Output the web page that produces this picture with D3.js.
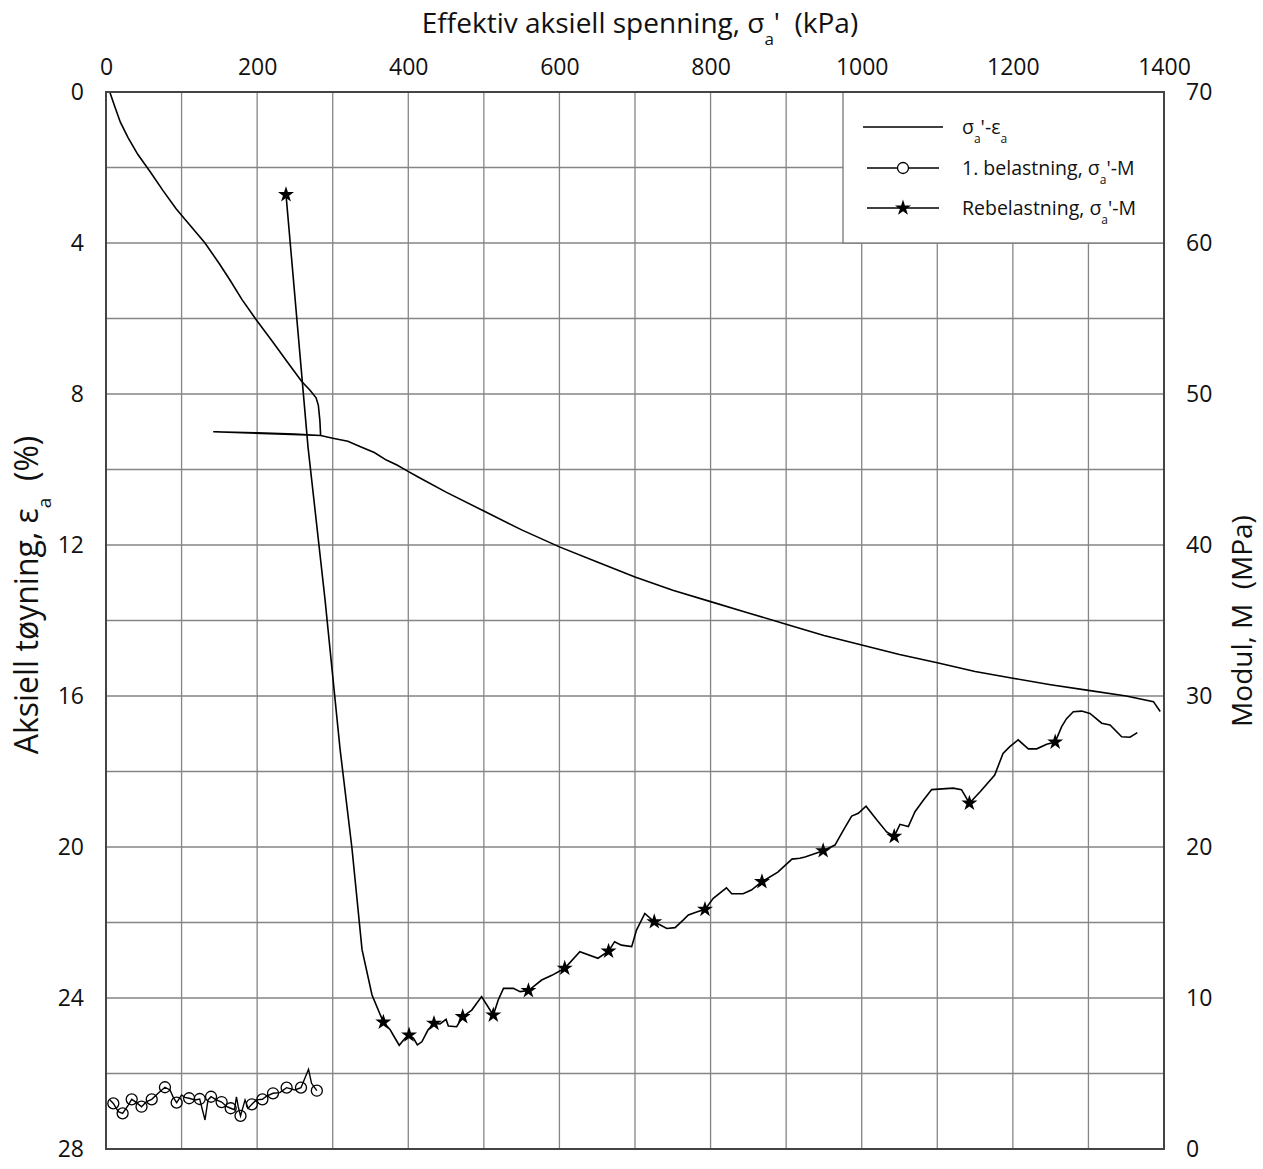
<!DOCTYPE html>
<html>
<head>
<meta charset="utf-8">
<script src="https://cdn.jsdelivr.net/npm/d3@7"></script>
<style>
  body { margin: 0; background: #fff; }
  svg { font-family: "Open Sans", sans-serif; }
  svg text { white-space: pre; }
  .grid line { stroke: #858585; stroke-width: 1.3; }
  .tick-lbl text { font-size: 23px; fill: #111; }
</style>
</head>
<body>
<svg id="chart" width="1263" height="1169"></svg>
<script>
// sigma_a' - eps_a (loading, creep, unload/reload, further loading)
const strainCurve = [
  [5,0],[11,0.35],[19,0.8],[29,1.2],[42,1.65],[58,2.1],[75,2.6],[93,3.1],[112,3.55],[131,4.0],
  [150,4.55],[164,4.98],[180,5.5],[199,6.04],[220,6.6],[240,7.15],[259,7.67],[270,7.9],
  [278,8.1],[281,8.3],[283,8.7],[284,9.1],
  [142,9.0],[200,9.03],[250,9.06],[284,9.1],
  [300,9.17],[320,9.25],[336,9.39],[355,9.55],[371,9.75],[385,9.88],[398,10.03],[413,10.2],
  [450,10.6],[500,11.1],[550,11.6],[600,12.05],[650,12.45],[700,12.85],[750,13.2],[800,13.5],
  [850,13.8],[900,14.1],[950,14.4],[1000,14.65],[1050,14.9],[1100,15.12],[1150,15.35],
  [1200,15.53],[1250,15.7],[1300,15.85],[1350,16.0],[1386,16.15],[1395,16.41]
];

// 1. belastning, sigma_a' - M
const firstLoadLine = [
  [5.3,3.25],[9.7,3.02],[16.3,2.47],[22,2.36],[29.5,2.91],[34,3.29],[40.5,3.07],[47,2.8],
  [53.7,3.14],[60.5,3.29],[69,3.69],[78,4.09],[84.7,3.91],[89,3.42],[93.5,3.07],[100,3.58],
  [104.5,3.42],[110,3.36],[117.6,3.25],[124,3.31],[131,1.92],[135,3.25],[139,3.46],[146,3.25],
  [153,3.11],[160,2.8],[165,2.7],[170,2.6],[172.6,3.46],[175,2.8],[178,2.19],[184,3.25],
  [188,2.7],[193,2.96],[199,3.25],[207,3.29],[212.6,3.51],[221,3.69],[230,3.73],[239,4.06],
  [250,3.91],[258,4.06],[268,5.28],[272,4.35],[279,3.86]
];
const firstLoadMarkers = [
  [9.7,3.02],[22,2.36],[34,3.29],[47,2.8],[60.5,3.29],[78,4.09],[93.5,3.07],[110,3.36],
  [124,3.31],[139,3.46],[153,3.11],[165,2.7],[178,2.19],[193,2.96],[207,3.29],[221,3.69],
  [239,4.06],[258,4.06],[279,3.86]
];

// Rebelastning, sigma_a' - M
const reloadLine = [
  [238.2,63.2],[267.3,46.5],[289.8,36.4],[309.7,26.5],[325.5,19.9],[338.8,13.2],[352,10.2],
  [367,8.4],[376,7.9],[380,7.55],[388,6.87],[396,7.35],[401,7.55],[407,7.33],[412,6.89],
  [418,7.1],[426,7.88],[434,8.32],[442,8.28],[450,8.59],[453,8.15],[464,8.1],[472,8.76],
  [484,9.2],[497,10.09],[504,9.54],[512.5,8.87],[519,9.87],[526,10.64],[539,10.64],[548,10.42],
  [559,10.49],[576.5,11.19],[590,11.5],[607,11.97],[627,13.07],[651,12.63],[665,13.1],
  [673,13.73],[682,13.5],[695.6,13.4],[702,14.5],[713,15.6],[725.5,15.05],[742,14.6],
  [753,14.66],[764,15.17],[770.6,15.5],[781.6,15.7],[792.6,15.87],[803.6,16.6],[821,17.3],
  [828,16.9],[843,16.9],[854,17.15],[868,17.7],[889,18.34],[907.7,19.2],[918,19.25],
  [925,19.34],[949,19.75],[964.6,20.13],[975.6,21.1],[986.7,22.05],[995.5,22.23],
  [1005.7,22.7],[1019.8,21.8],[1033,21.0],[1043,20.7],[1050.6,21.5],[1061.7,21.35],
  [1070.5,22.34],[1081.5,23.1],[1092.6,23.8],[1121,23.9],[1132,23.8],[1142.5,22.9],
  [1157,23.67],[1176,24.77],[1187,26.2],[1196,26.65],[1207,27.1],[1220.5,26.5],[1231.6,26.5],
  [1244.8,26.8],[1256,26.95],[1264.6,27.97],[1271,28.5],[1280,28.96],[1291,29.0],
  [1302,28.85],[1317.6,28.2],[1328.6,28.08],[1344,27.3],[1355,27.27],[1364.7,27.57]
];
const reloadMarkers = [
  [238.2,63.2],[367,8.4],[401,7.55],[434,8.32],[472,8.76],[512.5,8.87],[559,10.49],
  [607,11.97],[665,13.1],[725.5,15.05],[792.6,15.87],[868,17.7],[949,19.75],[1043,20.7],
  [1142.5,22.9],[1256,26.95]
];

const stressTicks = d3.range(0, 1401, 200);
const strainTicks = d3.range(0, 29, 4);
const modulusTicks = d3.range(0, 71, 10);
const legendLabels = ["σ|a|'-ε|a|", "1. belastning, σ|a|'-M", "Rebelastning, σ|a|'-M"];

const svg = d3.select("#chart");
const mLeft = 106, mRight = 1164, mTop = 92, mBottom = 1149;

const x = d3.scaleLinear().domain([0, 1400]).range([mLeft, mRight]);
const yL = d3.scaleLinear().domain([0, 28]).range([mTop, mBottom]);
const yR = d3.scaleLinear().domain([0, 70]).range([mBottom, mTop]);

// grid
const grid = svg.append("g").attr("class", "grid");
grid.selectAll(".gx").data(d3.range(100, 1400, 100)).enter().append("line")
  .attr("x1", d => x(d)).attr("x2", d => x(d)).attr("y1", mTop).attr("y2", mBottom);
grid.selectAll(".gy").data(d3.range(2, 28, 2)).enter().append("line")
  .attr("x1", mLeft).attr("x2", mRight).attr("y1", d => yL(d)).attr("y2", d => yL(d));

// helper: text with subscripts, segments split by '|', odd ones are subscript
function richText(sel, str, subSize) {
  str.split("|").forEach((s, i) => {
    const t = sel.append("tspan").text(s);
    if (i % 2 === 1) t.attr("baseline-shift", "sub").attr("font-size", subSize);
  });
}

// axes
const fmt = d3.format("d");
const axTop = svg.append("g").attr("class", "tick-lbl").attr("transform", `translate(0,${mTop})`)
  .call(d3.axisTop(x).tickValues(stressTicks).tickFormat(fmt).tickSize(0).tickPadding(17));
const axL = svg.append("g").attr("class", "tick-lbl").attr("transform", `translate(${mLeft},0)`)
  .call(d3.axisLeft(yL).tickValues(strainTicks).tickFormat(fmt).tickSize(0).tickPadding(22));
const axR = svg.append("g").attr("class", "tick-lbl").attr("transform", `translate(${mRight},0)`)
  .call(d3.axisRight(yR).tickValues(modulusTicks).tickFormat(fmt).tickSize(0).tickPadding(22));
[axTop, axL, axR].forEach(a => {
  a.select(".domain").remove();
  a.attr("font-family", null).attr("font-size", null);
});

// axis titles
const tTop = svg.append("text").attr("x", 640).attr("y", 33).attr("text-anchor", "middle")
  .attr("font-size", 28).attr("fill", "#111");
richText(tTop, "Effektiv aksiell spenning, σ|a|'  (kPa)", 17);

const tLeft = svg.append("text").attr("transform", "translate(38,595) rotate(-90)")
  .attr("text-anchor", "middle").attr("font-size", 32).attr("fill", "#111");
richText(tLeft, "Aksiell tøyning, ε|a|  (%)", 19);

const tRight = svg.append("text").attr("transform", "translate(1252,621) rotate(-90)")
  .attr("text-anchor", "middle").attr("font-size", 28).attr("fill", "#111");
richText(tRight, "Modul, M  (MPa)", 17);

// series
const lineL = d3.line().x(d => x(d[0])).y(d => yL(d[1]));
const lineR = d3.line().x(d => x(d[0])).y(d => yR(d[1]));

svg.append("path").datum(strainCurve).attr("d", lineL)
  .attr("fill", "none").attr("stroke", "#000").attr("stroke-width", 1.6);
svg.append("path").datum(firstLoadLine).attr("d", lineR)
  .attr("fill", "none").attr("stroke", "#000").attr("stroke-width", 1.4);
svg.selectAll(".circ").data(firstLoadMarkers).enter().append("circle")
  .attr("cx", d => x(d[0])).attr("cy", d => yR(d[1])).attr("r", 5.5)
  .attr("fill", "none").attr("stroke", "#000").attr("stroke-width", 1.3);
svg.append("path").datum(reloadLine).attr("d", lineR)
  .attr("fill", "none").attr("stroke", "#000").attr("stroke-width", 1.6);
const star = d3.symbol(d3.symbolStar).size(80);
svg.selectAll(".star").data(reloadMarkers).enter().append("path")
  .attr("d", star).attr("transform", d => `translate(${x(d[0])},${yR(d[1])})`).attr("fill", "#000");

// legend
const lg = svg.append("g");
lg.append("rect").attr("x", 843).attr("y", mTop).attr("width", mRight - 843).attr("height", 243 - mTop)
  .attr("fill", "#fff").attr("stroke", "#777").attr("stroke-width", 1.3);
const rowsY = [127, 168, 208];
legendLabels.forEach((lbl, i) => {
  const y = rowsY[i];
  lg.append("line").attr("x1", i === 0 ? 863 : 867).attr("x2", i === 0 ? 943 : 939)
    .attr("y1", y).attr("y2", y).attr("stroke", "#000").attr("stroke-width", 1.4);
  if (i === 1) lg.append("circle").attr("cx", 903).attr("cy", y).attr("r", 5.5)
    .attr("fill", "#fff").attr("stroke", "#000").attr("stroke-width", 1.3);
  if (i === 2) lg.append("path").attr("d", star).attr("transform", `translate(903,${y})`).attr("fill", "#000");
  const t = lg.append("text").attr("x", 962).attr("y", y + 7).attr("font-size", 19.5).attr("fill", "#111");
  richText(t, lbl, 12);
});

// plot frame
svg.append("rect").attr("x", mLeft).attr("y", mTop).attr("width", mRight - mLeft).attr("height", mBottom - mTop)
  .attr("fill", "none").attr("stroke", "#444").attr("stroke-width", 2);
</script>
</body>
</html>
